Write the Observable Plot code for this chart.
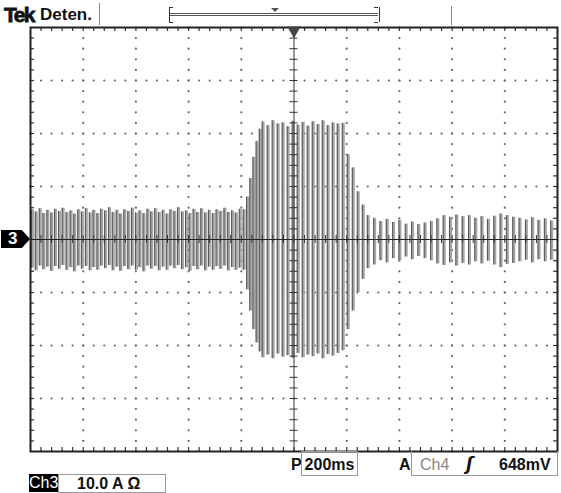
<!DOCTYPE html>
<html><head><meta charset="utf-8">
<script src="https://cdn.jsdelivr.net/npm/d3@7"></script>
<script src="https://cdn.jsdelivr.net/npm/@observablehq/plot@0.6"></script>
<style>
body{margin:0;background:#fff;}
#wrap{position:relative;width:561px;height:493px;overflow:hidden;font-family:"Liberation Sans",Arial,sans-serif;color:#111;}
#wrap svg{position:absolute;left:0;top:0;}
.ov{position:absolute;white-space:nowrap;line-height:1;}
</style></head><body><div id="wrap"></div>
<script>
// Time base: 200 ms/div, 10 divisions; Ch3: 10.0 A/div, 8 divisions
const timeDomain = [0, 2000];
const ampDomain = [-40, 40];
const msPerDiv = 200;
const ampPerDiv = 10;

// Before the event (low steady oscillation)
const preTimes = [8,22,37,51,66,81,95,110,124,139,154,168,183,197,212,227,241,256,270,285,300,314,329,343,358,373,387,402,416,431,446,460,475,489,504,519,533,548,562,577,592,606,621,635,650,665,679,694,708,723,738,752,767,781,796,811];
const preHigh = [5.6,5.2,5.8,4.9,5.5,5.0,5.7,5.3,5.9,5.1,5.4,4.8,5.6,5.2,5.8,5.0,5.5,4.9,5.7,5.4,6.0,5.1,5.5,4.8,5.6,5.3,5.9,5.0,5.4,4.9,5.7,5.2,5.8,5.1,5.5,4.8,5.6,5.3,6.0,5.2,5.4,4.9,5.7,5.1,5.8,5.0,5.5,4.9,5.6,5.3,5.9,5.1,5.4,5.0,5.7,5.6];
const preLow = [-5.4,-5.9,-5.0,-5.7,-5.2,-6.0,-5.1,-5.6,-4.9,-5.8,-5.3,-6.1,-5.0,-5.6,-5.1,-5.9,-5.3,-5.8,-5.0,-5.5,-4.9,-5.9,-5.2,-6.0,-5.1,-5.7,-5.0,-5.8,-5.3,-6.1,-5.0,-5.6,-5.1,-5.9,-5.2,-5.8,-5.0,-5.5,-4.9,-5.7,-5.3,-6.0,-5.1,-5.7,-5.0,-5.9,-5.2,-5.8,-5.1,-5.6,-5.0,-5.9,-5.3,-5.8,-5.4,-5.8];

// Burst
const burstTimes = [824,836,848,860,872,883,902,921,940,959,978,997,1016,1035,1054,1073,1092,1111,1130,1149,1168,1187,1206,1225,1244,1263,1282];
const burstHigh = [8.0,11.5,15.5,18.5,20.8,22.2,21.5,22.4,21.8,22.0,21.3,22.3,21.6,22.1,21.4,22.2,21.7,22.4,21.5,22.0,21.8,21.9,16.0,13.5,9.0,6.5,4.5];
const burstLow = [-9.5,-13.5,-17.0,-19.5,-21.2,-22.3,-21.8,-22.5,-21.6,-22.2,-21.9,-22.4,-21.5,-22.3,-21.8,-22.1,-21.6,-22.5,-21.7,-22.0,-21.5,-21.0,-17.0,-13.5,-10.0,-7.5,-5.5];

// After the event
const postTimes = [1306,1330,1354,1378,1402,1426,1450,1474,1498,1522,1546,1570,1594,1618,1642,1666,1690,1714,1738,1762,1786,1810,1834,1858,1882,1906,1930,1954,1978];
const postHigh = [4.0,3.4,3.8,3.2,3.6,2.9,3.3,2.8,3.1,3.4,3.9,4.5,4.2,4.6,4.3,4.5,4.0,4.3,3.8,4.4,4.8,4.5,4.2,4.0,3.7,4.1,3.6,3.9,3.5];
const postLow = [-4.8,-4.0,-4.4,-3.6,-4.0,-3.3,-3.8,-3.2,-3.6,-4.0,-4.6,-4.9,-4.4,-5.0,-4.5,-4.8,-4.2,-4.6,-4.1,-4.8,-5.3,-4.7,-4.5,-4.2,-3.9,-4.4,-3.8,-4.2,-3.9];

// Readout texts
const headerTexts = ["Tek", "Deten."];
const timebaseText = "200ms";
const triggerTexts = ["A", "Ch4", "648mV"];
const channelTexts = ["Ch3", "10.0 A \u03A9"];

const times = [...preTimes, ...burstTimes, ...postTimes];
const highs = [...preHigh, ...burstHigh, ...postHigh];
const lows = [...preLow, ...burstLow, ...postLow];
const wave = times.map((t, i) => ({t, hi: highs[i], lo: lows[i]}));

// graticule positions
const xMajor = d3.range(timeDomain[0], timeDomain[1] + 1, msPerDiv);
const yMajor = d3.range(ampDomain[0], ampDomain[1] + 1, ampPerDiv);
const xMinor = d3.range(timeDomain[0], timeDomain[1] + 1, msPerDiv / 5);
const yMinor = d3.range(ampDomain[0], ampDomain[1] + 1, ampPerDiv / 5);
const xc = (timeDomain[0] + timeDomain[1]) / 2;
const xIn = xMajor.filter(v => v > timeDomain[0] && v < timeDomain[1] && v !== xc);
const yIn = yMajor.filter(v => v > ampDomain[0] && v < ampDomain[1] && v !== 0);
const gridDots = [
  ...d3.cross(xIn, yMinor).map(([x, y]) => ({x, y})),
  ...d3.cross(xMinor, yIn).map(([x, y]) => ({x, y}))
];
const W = 561, H = 493;
const mL = 30, mR = 4, mT = 27, mB = 42;
const msPx = (timeDomain[1] - timeDomain[0]) / (W - mL - mR);
const ampPx = (ampDomain[1] - ampDomain[0]) / (H - mT - mB);
const tickT = 4 * msPx, tickA = 4 * ampPx;
const xEdgeTicks = xMinor.filter(v => v > timeDomain[0] && v < timeDomain[1]);
const yEdgeTicks = yMinor.filter(v => v > ampDomain[0] && v < ampDomain[1]);

const plot = Plot.plot({
  width: W, height: H,
  marginLeft: mL, marginRight: mR, marginTop: mT, marginBottom: mB,
  x: {domain: timeDomain, axis: null},
  y: {domain: ampDomain, axis: null},
  style: {background: "transparent"},
  marks: [
    Plot.dot(gridDots, {x: "x", y: "y", r: 1.1, fill: "#666", stroke: null}),
    // edge ticks
    Plot.ruleX(xEdgeTicks, {x: d => d, y1: ampDomain[1], y2: ampDomain[1] - tickA, stroke: "#333", strokeWidth: 1.2}),
    Plot.ruleX(xEdgeTicks, {x: d => d, y1: ampDomain[0], y2: ampDomain[0] + tickA, stroke: "#333", strokeWidth: 1.2}),
    Plot.ruleY(yEdgeTicks, {y: d => d, x1: timeDomain[0], x2: timeDomain[0] + tickT, stroke: "#333", strokeWidth: 1.2}),
    Plot.ruleY(yEdgeTicks, {y: d => d, x1: timeDomain[1], x2: timeDomain[1] - tickT, stroke: "#333", strokeWidth: 1.2}),
    // waveform
    Plot.ruleX(wave, {x: "t", y1: "lo", y2: "hi", stroke: "#a6a6a6", strokeWidth: 3}),
    Plot.ruleX(wave, {x: "t", y1: "lo", y2: "hi", stroke: "#555", strokeWidth: 1, dx: -1}),
    // center crosshair
    Plot.ruleX([xc], {x: d => d, stroke: "#333", strokeWidth: 1}),
    Plot.ruleY([0], {y: d => d, stroke: "#222", strokeWidth: 1.2}),
    Plot.ruleY(yEdgeTicks, {y: d => d, x1: xc - tickT, x2: xc + tickT, stroke: "#333", strokeWidth: 1}),
    Plot.ruleX(xEdgeTicks, {x: d => d, y1: -tickA, y2: tickA, stroke: "#333", strokeWidth: 1}),
    Plot.frame({stroke: "#222", strokeWidth: 2}),
    Plot.dot([xc], {x: d => d, frameAnchor: "top", symbol: "triangle", rotate: 180, r: 5, fill: "#444", stroke: null, dy: 3})
  ]
});
const wrap = document.getElementById("wrap");
wrap.appendChild(plot);
const ys = plot.scale("y");
const y0 = ys.apply(0);

function ov(html, css) {
  const d = document.createElement("div");
  d.className = "ov";
  d.innerHTML = html;
  Object.assign(d.style, css);
  wrap.appendChild(d);
  return d;
}
// header
ov(headerTexts[0], {left: "4px", top: "4px", fontSize: "21px", fontWeight: "900", letterSpacing: "-1.6px", webkitTextStroke: "0.8px #111"});
ov(headerTexts[1], {left: "40px", top: "6px", fontSize: "17px", fontWeight: "bold"});
ov("", {left: "99px", top: "3px", width: "0", height: "22px", borderLeft: "1.5px solid #888"});
ov("", {left: "451px", top: "6px", width: "0", height: "19px", borderLeft: "1.5px solid #888"});
ov("", {left: "169px", top: "7px", width: "209px", height: "15px", borderLeft: "1.5px solid #333", borderRight: "1.5px solid #333"});
ov("", {left: "169px", top: "7px", width: "4px", height: "14px", borderTop: "1px solid #333", borderBottom: "1px solid #333"});
ov("", {left: "374px", top: "7px", width: "4px", height: "14px", borderTop: "1px solid #333", borderBottom: "1px solid #333"});
ov("", {left: "170px", top: "13px", width: "208px", height: "1px", borderTop: "1px solid #555", borderBottom: "1px solid #555"});
ov("", {left: "271px", top: "8px", width: "0", height: "0", borderLeft: "4px solid transparent", borderRight: "4px solid transparent", borderTop: "4px solid #555"});
// channel marker
ov("3", {left: "1px", top: (y0 - 9) + "px", width: "29px", height: "18px", background: "#000", color: "#fff", fontWeight: "bold", fontSize: "17px", lineHeight: "18px", paddingLeft: "7px", boxSizing: "border-box", clipPath: "polygon(0 0, 72% 0, 100% 50%, 72% 100%, 0 100%)"});
// footer
ov("P", {left: "291px", top: "457px", fontSize: "16px", fontWeight: "bold"});
ov(timebaseText, {left: "301px", top: "451px", width: "57px", height: "25px", boxSizing: "border-box", border: "1.5px solid #999", fontSize: "16px", fontWeight: "bold", paddingTop: "5px", textAlign: "center"});
ov(triggerTexts[0], {left: "399px", top: "457px", fontSize: "16px", fontWeight: "bold"});
ov("", {left: "411px", top: "451px", width: "147px", height: "25px", boxSizing: "border-box", borderLeft: "1.5px solid #999", borderBottom: "1.5px solid #999", borderRight: "1.5px solid #999"});
ov(triggerTexts[1], {left: "420px", top: "457px", fontSize: "16px", color: "#888"});
ov("\u0283", {left: "466px", top: "456px", fontSize: "17px", fontWeight: "bold", fontStyle: "italic", fontFamily: "DejaVu Sans"});
ov(triggerTexts[2], {left: "499px", top: "457px", fontSize: "16px", fontWeight: "bold"});
ov(channelTexts[0], {left: "29px", top: "474px", width: "29px", height: "18px", background: "#000", color: "#fff", fontSize: "16px", lineHeight: "18px", textAlign: "center"});
ov(channelTexts[1], {left: "58px", top: "474px", width: "108px", height: "19px", boxSizing: "border-box", border: "1.5px solid #999", fontSize: "16px", fontWeight: "bold", paddingTop: "1px", paddingLeft: "18px"});
</script></body></html>
